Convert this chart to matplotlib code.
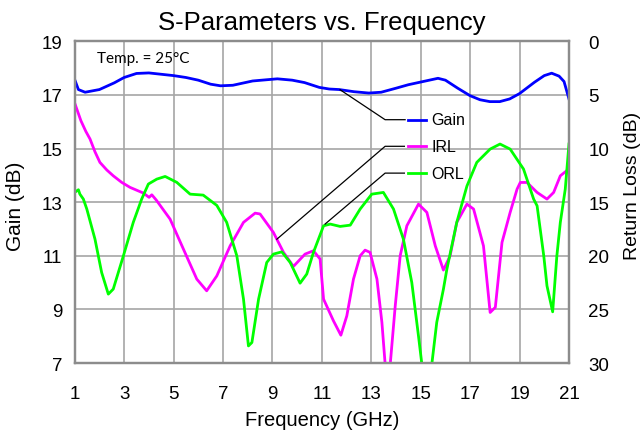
import matplotlib
matplotlib.use("Agg")
import matplotlib.pyplot as plt

plt.rcParams['font.family'] = ['Liberation Sans', 'DejaVu Sans']

# Gain (left axis, dB)
gain_f = [1.0, 1.15, 1.42, 2.0, 2.6, 3.0, 3.5, 4.0, 5.0, 5.5, 6.0, 6.5, 6.9, 7.4,
          8.2, 9.2, 9.8, 10.3, 10.9, 11.3, 11.7, 12.3, 12.9, 13.4, 14.0, 14.5,
          15.0, 15.7, 16.0, 16.5, 17.0, 17.4, 17.8, 18.2, 18.6, 19.0, 19.6,
          20.0, 20.3, 20.6, 20.8, 21.0]
gain_db = [17.57, 17.2, 17.1, 17.2, 17.45, 17.65, 17.8, 17.82, 17.72, 17.65,
           17.55, 17.4, 17.34, 17.36, 17.52, 17.6, 17.55, 17.46, 17.28, 17.22,
           17.2, 17.12, 17.07, 17.1, 17.25, 17.38, 17.48, 17.62, 17.55, 17.25,
           16.97, 16.82, 16.75, 16.75, 16.85, 17.05, 17.47, 17.72, 17.81, 17.7,
           17.5, 16.85]

# Input return loss (right axis, dB)
irl_f = [1.0, 1.25, 1.45, 1.62, 1.82, 2.02, 2.3, 2.56, 2.9, 3.24, 3.78, 4.01,
         4.12, 4.3, 4.86, 5.4, 5.94, 6.34, 6.75, 7.29, 7.83, 8.3, 8.5, 9.04,
         9.45, 9.85, 10.32, 10.66, 10.93, 11.07, 11.47, 11.77, 12.01, 12.28,
         12.55, 12.75, 12.95, 13.23, 13.43, 13.66, 13.97, 14.17, 14.44, 14.91,
         15.25, 15.59, 15.92, 16.19, 16.46, 16.87, 17.14, 17.54, 17.81, 18.02,
         18.29, 18.62, 18.9, 19.03, 19.3, 19.71, 20.11, 20.38, 20.65, 21.0]
irl_db = [5.76, 7.4, 8.4, 9.11, 10.3, 11.29, 12.0, 12.54, 13.15, 13.62, 14.15,
          14.55, 14.31, 14.8, 16.58, 19.38, 22.17, 23.26, 21.87, 19.07, 16.88,
          16.02, 16.1, 17.82, 19.68, 20.99, 19.84, 19.53, 20.3, 24.04, 26.06,
          27.4, 25.6, 22.17, 20.0, 19.47, 19.68, 22.17, 26.2, 33.0, 24.66, 20.0,
          17.2, 15.18, 15.95, 19.07, 21.33, 20.0, 16.88, 15.18, 15.64, 19.07,
          25.28, 24.8, 18.75, 15.95, 13.78, 13.16, 13.16, 14.09, 14.71, 14.09,
          12.54, 11.9]

# Output return loss (right axis, dB)
orl_f = [1.0, 1.15, 1.21, 1.35, 1.49, 1.82, 2.09, 2.36, 2.56, 2.97, 3.37, 3.71,
         3.98, 4.32, 4.66, 5.13, 5.67, 6.2, 6.75, 7.15, 7.56, 7.83, 8.03, 8.17,
         8.44, 8.77, 9.04, 9.38, 9.72, 10.12, 10.39, 10.66, 11.07, 11.34,
         11.74, 12.15, 12.55, 13.02, 13.49, 13.9, 14.3, 14.64, 14.91, 15.25,
         15.65, 15.92, 16.06, 16.46, 16.87, 17.27, 17.81, 18.21, 18.62, 19.16,
         19.57, 19.71, 19.98, 20.11, 20.34, 20.51, 20.65, 20.85, 21.0]
orl_db = [14.09, 13.84, 14.25, 14.71, 15.64, 18.44, 21.55, 23.57, 23.1, 20.0,
          16.88, 14.71, 13.31, 12.85, 12.6, 13.15, 14.25, 14.34, 15.3, 16.88,
          20.0, 24.04, 28.4, 28.08, 24.04, 20.62, 19.84, 19.63, 20.62, 22.55,
          21.7, 19.68, 17.2, 17.04, 17.26, 17.14, 15.64, 14.25, 14.09, 15.64,
          18.44, 22.49, 27.46, 34.0, 26.2, 23.1, 21.24, 16.88, 13.5, 11.29,
          10.05, 9.58, 10.05, 11.91, 14.71, 15.34, 20.0, 22.8, 25.22, 20.0,
          16.88, 13.78, 9.58]

x_ticks = [1, 3, 5, 7, 9, 11, 13, 15, 17, 19, 21]
gain_ticks = [7, 9, 11, 13, 15, 17, 19]
rl_ticks = [0, 5, 10, 15, 20, 25, 30]

blue = '#0000ff'
magenta = '#ff00ff'
green = '#00ff00'
frame = '#8c8c8c'

fig = plt.figure(figsize=(6.44, 4.35), dpi=100)
ax = fig.add_axes([0.116, 0.163, 0.7675, 0.7398])
ax2 = ax.twinx()

ax.plot(gain_f, gain_db, color=blue, lw=2)
ax2.plot(irl_f, irl_db, color=magenta, lw=2)
ax2.plot(orl_f, orl_db, color=green, lw=2)

ax.set_xlim(1, 21)
ax.set_ylim(7, 19)
ax2.set_ylim(30, 0)
ax.set_xticks(x_ticks)
ax.set_yticks(gain_ticks)
ax2.set_yticks(rl_ticks)

ax.grid(True, color='#a6a6a6', lw=1.2)
ax.set_axisbelow(True)
for a in (ax, ax2):
    for s in a.spines.values():
        s.set_color(frame)
        s.set_linewidth(1.6)
ax.tick_params(axis='x', length=0, pad=16, labelsize=13.5)
ax.tick_params(axis='y', length=0, pad=9, labelsize=13.5)
ax2.tick_params(axis='y', length=0, pad=14, labelsize=13.5)

ax.set_title('S-Parameters vs. Frequency', fontsize=18.5, pad=9)
ax.set_xlabel('Frequency (GHz)', fontsize=14.5)
ax.set_ylabel('Gain (dB)', fontsize=15)
ax2.set_ylabel('Return Loss (dB)', fontsize=14)
ax.xaxis.set_label_coords(0.5, -0.147)
ax.yaxis.set_label_coords(-0.1005, 0.49)
ax2.yaxis.set_label_coords(1.112, 0.555)

ax.text(0.045, 0.936, 'Temp. = 25°C', transform=ax.transAxes, fontsize=11,
        family=['Lato', 'DejaVu Sans'], va='baseline')

# callout labels (drawn in return-loss coordinates)
callouts = [
    ('Gain', blue, [11.74, 13.56, 14.37], [4.52, 7.31, 7.31]),
    ('IRL', magenta, [9.18, 13.56, 14.34], [18.45, 9.79, 9.79]),
    ('ORL', green, [11.13, 13.56, 14.34], [17.04, 12.29, 12.29]),
]
for name, col, xs, ys in callouts:
    ax2.plot(xs, ys, color='black', lw=0.9)
    ax2.plot([14.47, 15.22], [ys[-1], ys[-1]], color=col, lw=2)
    ax2.text(15.42, ys[-1], name, fontsize=11.5, va='center', ha='left')

fig.savefig('out.png', dpi=100)
